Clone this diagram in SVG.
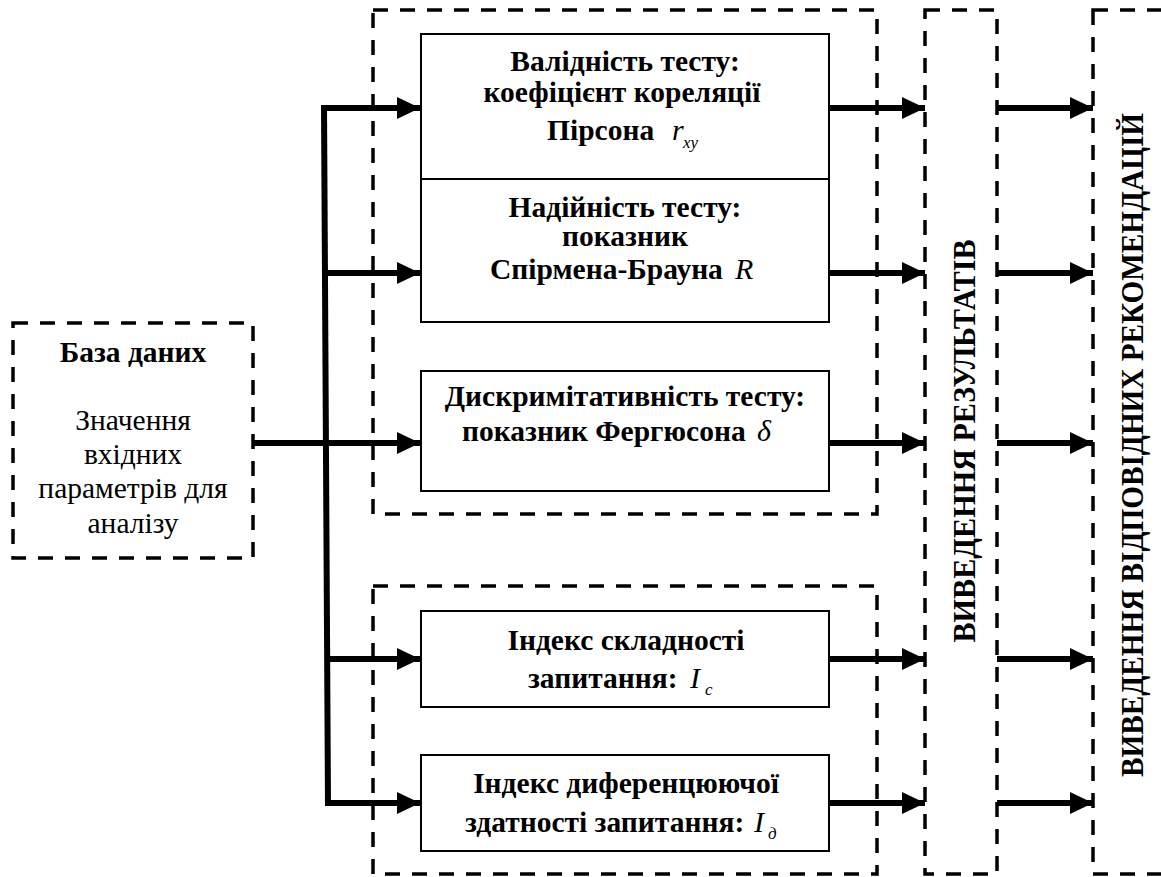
<svg xmlns="http://www.w3.org/2000/svg" width="1161" height="877" viewBox="0 0 1161 877">
<style>
.dash{fill:none;stroke:#000;stroke-width:3.5;stroke-dasharray:15 12}
.box{fill:#fff;stroke:#000;stroke-width:2}
.t{font-family:"Liberation Serif","Times New Roman",serif;font-size:29.5px;fill:#000;text-anchor:middle}
.l{text-anchor:start}
.b{font-weight:bold}
.m{font-family:"Liberation Serif","Times New Roman",serif;font-style:italic;font-size:30px;fill:#000}
.s{font-family:"Liberation Serif","Times New Roman",serif;font-style:italic;font-size:17px;fill:#000}
.v{font-family:"Liberation Serif","Times New Roman",serif;font-size:32px;font-weight:bold;fill:#000;text-anchor:middle}
.ar{fill:none;stroke:#000;stroke-width:6}
</style>
<defs>
<marker id="ah" markerUnits="userSpaceOnUse" markerWidth="24" markerHeight="24" refX="23" refY="11" orient="auto">
<path d="M0,0 L23,11 L0,22 Z" fill="#000"/>
</marker>
</defs>

<g id="group-top"><rect class="dash" x="373" y="10" width="504" height="504"/></g>
<g id="group-bottom"><rect class="dash" x="373" y="586" width="504" height="288"/></g>

<g id="db">
<rect class="dash" x="13" y="323" width="240" height="235"/>
<text class="t b" x="133" y="362">База даних</text>
<text class="t" x="133" y="430">Значення</text>
<text class="t" x="133" y="464">вхідних</text>
<text class="t" x="133" y="498">параметрів для</text>
<text class="t" x="133" y="533">аналізу</text>
</g>

<g id="validity">
<rect class="box" x="421" y="34" width="408" height="145"/>
<text class="t b" x="625" y="71">Валідність тесту:</text>
<text class="t b" x="622" y="102">коефіцієнт кореляції</text>
<text class="t b l" x="547" y="140">Пірсона</text>
<text class="m" x="672" y="140">r</text>
<text class="s" x="683" y="148">xy</text>
</g>

<g id="reliability">
<rect class="box" x="421" y="179" width="408" height="143"/>
<text class="t b" x="625" y="217">Надійність тесту:</text>
<text class="t b" x="625" y="246">показник</text>
<text class="t b l" x="490" y="279">Спірмена-Брауна</text>
<text class="m" x="735" y="279">R</text>
</g>

<g id="discrimination">
<rect class="box" x="421" y="371" width="408" height="120"/>
<text class="t b" x="625" y="406">Дискримітативність тесту:</text>
<text class="t b l" x="462" y="441">показник Фергюсона</text>
<text class="m" x="757" y="441">δ</text>
</g>

<g id="difficulty">
<rect class="box" x="421" y="611" width="408" height="96"/>
<text class="t b" x="626" y="650">Індекс складності</text>
<text class="t b l" x="528" y="688">запитання:</text>
<text class="m" x="690" y="688">I</text>
<text class="s" x="705" y="695">c</text>
</g>

<g id="differentiation">
<rect class="box" x="421" y="755" width="408" height="96"/>
<text class="t b" x="626" y="793">Індекс диференцюючої</text>
<text class="t b l" x="465" y="832">здатності запитання:</text>
<text class="m" x="754" y="832">I</text>
<text class="s" x="768" y="839">д</text>
</g>

<g id="results">
<rect class="dash" x="925" y="10" width="72" height="864"/>
<text class="v" transform="translate(975,441) rotate(-90)" textLength="403" lengthAdjust="spacingAndGlyphs">ВИВЕДЕННЯ РЕЗУЛЬТАТІВ</text>
</g>

<g id="recommendations">
<rect class="dash" x="1093" y="10" width="75" height="864"/>
<text class="v" transform="translate(1143,445) rotate(-90)" textLength="664" lengthAdjust="spacingAndGlyphs">ВИВЕДЕННЯ ВІДПОВІДНИХ РЕКОМЕНДАЦІЙ</text>
</g>

<g id="connectors">
<path class="ar" d="M324,105 L328,806"/>
<line class="ar" x1="321" y1="108" x2="420" y2="108" marker-end="url(#ah)"/>
<line class="ar" x1="325" y1="273" x2="420" y2="273" marker-end="url(#ah)"/>
<line class="ar" x1="253" y1="443" x2="420" y2="443" marker-end="url(#ah)"/>
<line class="ar" x1="327" y1="659" x2="420" y2="659" marker-end="url(#ah)"/>
<line class="ar" x1="325" y1="803" x2="420" y2="803" marker-end="url(#ah)"/>
<line class="ar" x1="829" y1="108" x2="925" y2="108" marker-end="url(#ah)"/>
<line class="ar" x1="829" y1="273" x2="925" y2="273" marker-end="url(#ah)"/>
<line class="ar" x1="829" y1="443" x2="925" y2="443" marker-end="url(#ah)"/>
<line class="ar" x1="829" y1="659" x2="925" y2="659" marker-end="url(#ah)"/>
<line class="ar" x1="829" y1="803" x2="925" y2="803" marker-end="url(#ah)"/>
<line class="ar" x1="997" y1="108" x2="1093" y2="108" marker-end="url(#ah)"/>
<line class="ar" x1="997" y1="273" x2="1093" y2="273" marker-end="url(#ah)"/>
<line class="ar" x1="997" y1="443" x2="1093" y2="443" marker-end="url(#ah)"/>
<line class="ar" x1="997" y1="659" x2="1093" y2="659" marker-end="url(#ah)"/>
<line class="ar" x1="997" y1="803" x2="1093" y2="803" marker-end="url(#ah)"/>
</g>
</svg>
